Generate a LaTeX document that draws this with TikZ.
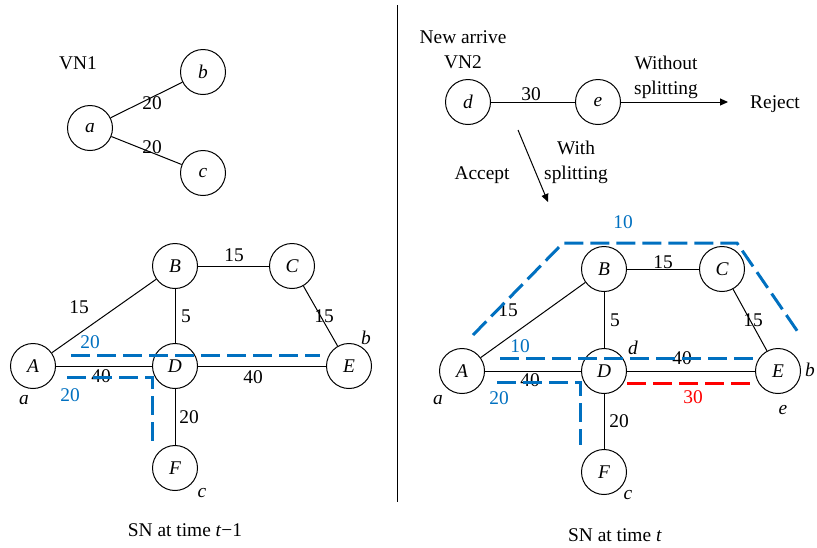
\documentclass[tikz,border=0pt]{standalone}
\usepackage{fontspec}
\setmainfont{Liberation Serif}
\usetikzlibrary{arrows.meta}
\definecolor{pathblue}{RGB}{0,112,192}
\tikzset{
  font=\fontsize{9.7}{11}\selectfont,
  vnode/.style={
    draw,
    circle,
    line width=0.5pt,
    minimum size=22.5pt,
    inner sep=0pt,
    font=\fontsize{9.7}{11}\selectfont\itshape
  },
  link/.style={line width=0.5pt},
  lbl/.style={inner sep=1pt},
  twoline/.style={inner sep=1pt, align=center, font=\fontsize{9.7}{12.5}\selectfont},
  mapped/.style={inner sep=1pt, font=\fontsize{9.7}{11}\selectfont\itshape},
  bluepath/.style={draw=pathblue, line width=1.5pt, dash pattern=on 9.5pt off 3.5pt},
  redpath/.style={draw=red, line width=1.5pt, dash pattern=on 9.5pt off 3.5pt},
  bluelbl/.style={text=pathblue, inner sep=1pt},
  redlbl/.style={text=red, inner sep=1pt},
  arrow/.style={-{Triangle[length=4pt,width=3.5pt]}, line width=0.5pt}
}

\begin{document}
\begin{tikzpicture}[x=0.5pt, y=-0.5pt]
\useasboundingbox (0,0) rectangle (817,547);

% --- VN1 ---
\node[lbl] (vn1) at (78,63) {VN1};
\node[vnode] (va) at (90,128) {a};
\node[vnode] (vb) at (203,72) {b};
\node[vnode] (vc) at (203,173) {c};
\draw[link] (va) -- (vb);
\draw[link] (va) -- (vc);
\node[lbl] (wab) at (152,103) {20};
\node[lbl] (wac) at (152,147) {20};

% --- SN at time t-1 ---
\node[vnode] (lA) at (33,366) {A};
\node[vnode] (lB) at (175,266) {B};
\node[vnode] (lC) at (292,266) {C};
\node[vnode] (lD) at (175,366) {D};
\node[vnode] (lE) at (349,366) {E};
\node[vnode] (lF) at (175,468) {F};
\draw[link] (lA) -- (lB);
\draw[link] (lB) -- (lC);
\draw[link] (lB) -- (lD);
\draw[link] (lC) -- (lE);
\draw[link] (lA) -- (lD);
\draw[link] (lD) -- (lE);
\draw[link] (lD) -- (lF);
\node[lbl] (lwAB) at (79,307) {15};
\node[lbl] (lwBC) at (234,255) {15};
\node[lbl] (lwBD) at (186,316) {5};
\node[lbl] (lwCE) at (324,316) {15};
\node[lbl] (lwAD) at (101,376) {40};
\node[lbl] (lwDE) at (253,377) {40};
\node[lbl] (lwDF) at (189,417) {20};
\node[mapped] (lma) at (24,400) {a};
\node[mapped] (lmb) at (366,338) {b};
\node[mapped] (lmc) at (202,493) {c};

% mapped paths of VN1
\coordinate (lp1s) at (71,355);
\coordinate (lp1e) at (320,355);
\coordinate (lp2s) at (67,377);
\coordinate (lp2c) at (152,377);
\coordinate (lp2e) at (152,442);
\draw[bluepath] (lp1s) -- (lp1e);
\draw[bluepath] (lp2s) -- (lp2c) -- (lp2e);
\node[bluelbl] (lb1) at (90,342) {20};
\node[bluelbl] (lb2) at (70,395) {20};

\node[lbl] (capl) at (185,530) {SN at time \textit{t}−1};

% --- separator ---
\coordinate (septop) at (397,5);
\coordinate (sepbot) at (397,502);
\draw[link] (septop) -- (sepbot);

% --- VN2 ---
\node[lbl] (newarr) at (463,37) {New arrive};
\node[lbl] (vn2) at (463,62) {VN2};
\node[vnode] (vd) at (468,102) {d};
\node[vnode] (ve) at (598,102) {e};
\draw[link] (vd) -- (ve);
\node[lbl] (wde) at (531,94) {30};
\coordinate (rej) at (728,102);
\draw[arrow] (ve) -- (rej);
\node[twoline] (nosplit) at (666,77) {Without\\splitting};
\node[lbl] (reject) at (775,104) {Reject};
\coordinate (accs) at (518,130);
\coordinate (acce) at (548,202);
\draw[arrow] (accs) -- (acce);
\node[lbl] (accept) at (482,175) {Accept};
\node[twoline] (split) at (576,162) {With\\splitting};

% --- SN at time t ---
\node[vnode] (rA) at (462,371) {A};
\node[vnode] (rB) at (604,269) {B};
\node[vnode] (rC) at (722,269) {C};
\node[vnode] (rD) at (604,371) {D};
\node[vnode] (rE) at (778,371) {E};
\node[vnode] (rF) at (604,472) {F};
\draw[link] (rA) -- (rB);
\draw[link] (rB) -- (rC);
\draw[link] (rB) -- (rD);
\draw[link] (rC) -- (rE);
\draw[link] (rA) -- (rD);
\draw[link] (rD) -- (rE);
\draw[link] (rD) -- (rF);
\node[lbl] (rwAB) at (508,310) {15};
\node[lbl] (rwBC) at (663,262) {15};
\node[lbl] (rwBD) at (615,320) {5};
\node[lbl] (rwCE) at (753,320) {15};
\node[lbl] (rwAD) at (530,380) {40};
\node[lbl] (rwDE) at (682,358) {40};
\node[lbl] (rwDF) at (619,421) {20};
\node[mapped] (rma) at (438,400) {a};
\node[mapped] (rmb) at (810,370) {b};
\node[mapped] (rmc) at (628,495) {c};
\node[mapped] (rmd) at (633,348) {d};
\node[mapped] (rme) at (783,410) {e};

% mapped paths of VN1 and VN2
\coordinate (rp1s) at (473,335);
\coordinate (rp1a) at (563,243);
\coordinate (rp1b) at (737,243);
\coordinate (rp1e) at (800,335);
\coordinate (rp2s) at (500,358);
\coordinate (rp2e) at (757,358);
\coordinate (rp3s) at (497,382);
\coordinate (rp3c) at (580,382);
\coordinate (rp3e) at (580,445);
\coordinate (rp4s) at (627,383);
\coordinate (rp4e) at (757,383);
\draw[bluepath] (rp1s) -- (rp1a) -- (rp1b) -- (rp1e);
\draw[bluepath] (rp2s) -- (rp2e);
\draw[bluepath] (rp3s) -- (rp3c) -- (rp3e);
\draw[redpath] (rp4s) -- (rp4e);
\node[bluelbl] (rb1) at (623,222) {10};
\node[bluelbl] (rb2) at (520,346) {10};
\node[bluelbl] (rb3) at (499,398) {20};
\node[redlbl] (rr1) at (693,397) {30};

\node[lbl] (capr) at (615,535) {SN at time \textit{t}};

\end{tikzpicture}
\end{document}
